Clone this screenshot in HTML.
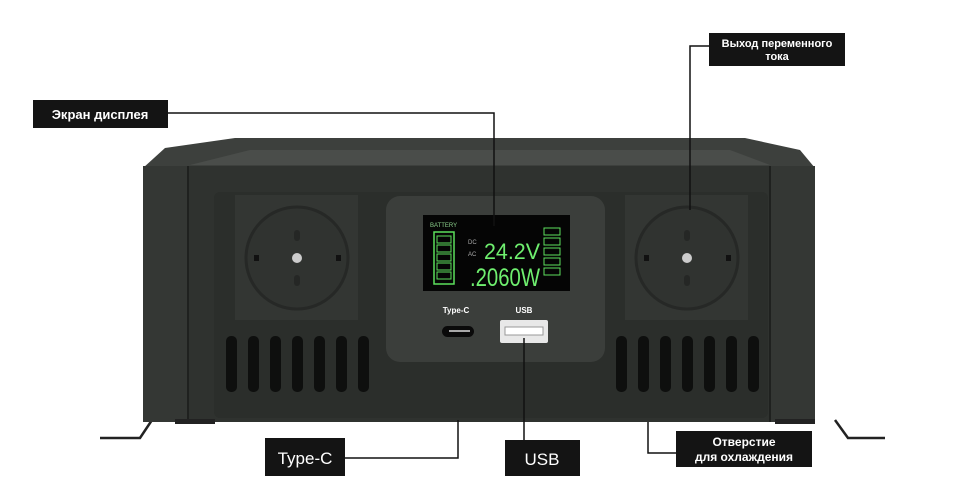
<!DOCTYPE html>
<html><head><meta charset="utf-8"><style>
html,body{margin:0;padding:0;background:#fff;}
svg{display:block;}
text{font-family:"Liberation Sans","DejaVu Sans",sans-serif;font-weight:bold;}
.n{font-weight:normal;}
</style></head><body>
<svg width="954" height="485" viewBox="0 0 954 485" xmlns="http://www.w3.org/2000/svg">
<rect width="954" height="485" fill="#fff"/>
<!-- feet -->
<polyline points="100,438 140,438 152,420" fill="none" stroke="#222" stroke-width="2.5"/>
<polyline points="835,420 848,438 885,438" fill="none" stroke="#222" stroke-width="2.5"/>
<!-- lid -->
<polygon points="143,168 165,148 235,138 745,138 800,150 815,168" fill="#3d403d"/>
<polygon points="190,165 250,150 730,150 770,165" fill="#4a4d4a"/>
<!-- body -->
<rect x="143" y="166" width="672" height="256" fill="#2f322f"/>
<rect x="143" y="166" width="45" height="256" fill="#343734"/>
<rect x="770" y="166" width="45" height="256" fill="#343734"/>
<line x1="188" y1="166" x2="188" y2="422" stroke="#1f211f" stroke-width="2"/>
<line x1="770" y1="166" x2="770" y2="422" stroke="#1f211f" stroke-width="2"/>
<rect x="214" y="192" width="554" height="226" rx="6" fill="#2b2e2b"/>
<rect x="175" y="419" width="40" height="5" fill="#222"/>
<rect x="775" y="419" width="40" height="5" fill="#222"/>
<!-- sockets -->
<g id="s1">
<rect x="235" y="195" width="123" height="125" fill="#333633"/>
<circle cx="297" cy="258" r="51" fill="#303330" stroke="#262826" stroke-width="3"/>
<circle cx="297" cy="258" r="5" fill="#ccc"/>
<rect x="294" y="230" width="6" height="11" rx="3" fill="#252725"/>
<rect x="294" y="275" width="6" height="11" rx="3" fill="#252725"/>
<rect x="254" y="255" width="5" height="6" fill="#111"/>
<rect x="336" y="255" width="5" height="6" fill="#111"/>
</g>
<use href="#s1" transform="translate(390,0)"/>
<!-- vents -->
<g fill="#0e0f0e">
<rect x="226" y="336" width="11" height="56" rx="5"/><rect x="248" y="336" width="11" height="56" rx="5"/><rect x="270" y="336" width="11" height="56" rx="5"/><rect x="292" y="336" width="11" height="56" rx="5"/><rect x="314" y="336" width="11" height="56" rx="5"/><rect x="336" y="336" width="11" height="56" rx="5"/><rect x="358" y="336" width="11" height="56" rx="5"/>
<rect x="616" y="336" width="11" height="56" rx="5"/><rect x="638" y="336" width="11" height="56" rx="5"/><rect x="660" y="336" width="11" height="56" rx="5"/><rect x="682" y="336" width="11" height="56" rx="5"/><rect x="704" y="336" width="11" height="56" rx="5"/><rect x="726" y="336" width="11" height="56" rx="5"/><rect x="748" y="336" width="11" height="56" rx="5"/>
</g>
<!-- display panel -->
<rect x="386" y="196" width="219" height="166" rx="14" fill="#3b3e3b"/>
<rect x="423" y="215" width="147" height="76" fill="#050505"/>
<text class="n" x="430" y="227" font-size="6" fill="#8bd08b">BATTERY</text>
<rect x="434" y="232" width="20" height="52" fill="none" stroke="#5de05d" stroke-width="1.5"/>
<g fill="none" stroke="#5de05d"><rect x="437" y="236" width="14" height="7"/><rect x="437" y="245" width="14" height="7"/><rect x="437" y="254" width="14" height="7"/><rect x="437" y="263" width="14" height="7"/><rect x="437" y="272" width="14" height="7"/></g>
<text class="n" x="484" y="259" font-size="22" fill="#6fef6f" textLength="56" lengthAdjust="spacingAndGlyphs">24.2V</text>
<text class="n" x="470" y="286" font-size="25" fill="#6fef6f" textLength="70" lengthAdjust="spacingAndGlyphs">.2060W</text>
<text class="n" x="468" y="244" font-size="6" fill="#aaa">DC</text>
<text class="n" x="468" y="256" font-size="6" fill="#aaa">AC</text>
<g fill="none" stroke="#5de05d"><rect x="544" y="228" width="16" height="7"/><rect x="544" y="238" width="16" height="7"/><rect x="544" y="248" width="16" height="7"/><rect x="544" y="258" width="16" height="7"/><rect x="544" y="268" width="16" height="7"/></g>
<text x="524" y="313" font-size="8" fill="#fff" text-anchor="middle">USB</text>
<text x="456" y="313" font-size="8" fill="#fff" text-anchor="middle">Type-C</text>
<rect x="442" y="326" width="32" height="11" rx="5.5" fill="#0a0a0a"/>
<line x1="449" y1="331" x2="470" y2="331" stroke="#ddd" stroke-width="1.5"/>
<rect x="500" y="320" width="48" height="23" rx="2" fill="#e8e8e8"/>
<rect x="505" y="327" width="38" height="8" fill="#fff" stroke="#999"/>
<!-- callout lines -->
<g fill="none" stroke="#111" stroke-width="1.5">
<polyline points="168,113 494,113 494,226"/>
<polyline points="709,46 690,46 690,210"/>
<polyline points="345,458 458,458 458,420"/>
<line x1="524" y1="338" x2="524" y2="440"/>
<polyline points="676,453 648,453 648,422"/>
</g>
<!-- labels -->
<rect x="33" y="100" width="135" height="28" fill="#141414"/>
<text x="100" y="119" font-size="13" fill="#fff" text-anchor="middle">Экран дисплея</text>
<rect x="709" y="33" width="136" height="33" fill="#141414"/>
<text x="777" y="47" font-size="11" fill="#fff" text-anchor="middle">Выход переменного</text>
<text x="777" y="60" font-size="11" fill="#fff" text-anchor="middle">тока</text>
<rect x="265" y="438" width="80" height="38" fill="#141414"/>
<text class="n" x="305" y="464" font-size="17" fill="#fff" text-anchor="middle">Type-C</text>
<rect x="505" y="440" width="75" height="36" fill="#141414"/>
<text class="n" x="542" y="465" font-size="17" fill="#fff" text-anchor="middle">USB</text>
<rect x="676" y="431" width="136" height="36" fill="#141414"/>
<text x="744" y="446" font-size="12" fill="#fff" text-anchor="middle">Отверстие</text>
<text x="744" y="461" font-size="12" fill="#fff" text-anchor="middle">для охлаждения</text>
</svg>
</body></html>
